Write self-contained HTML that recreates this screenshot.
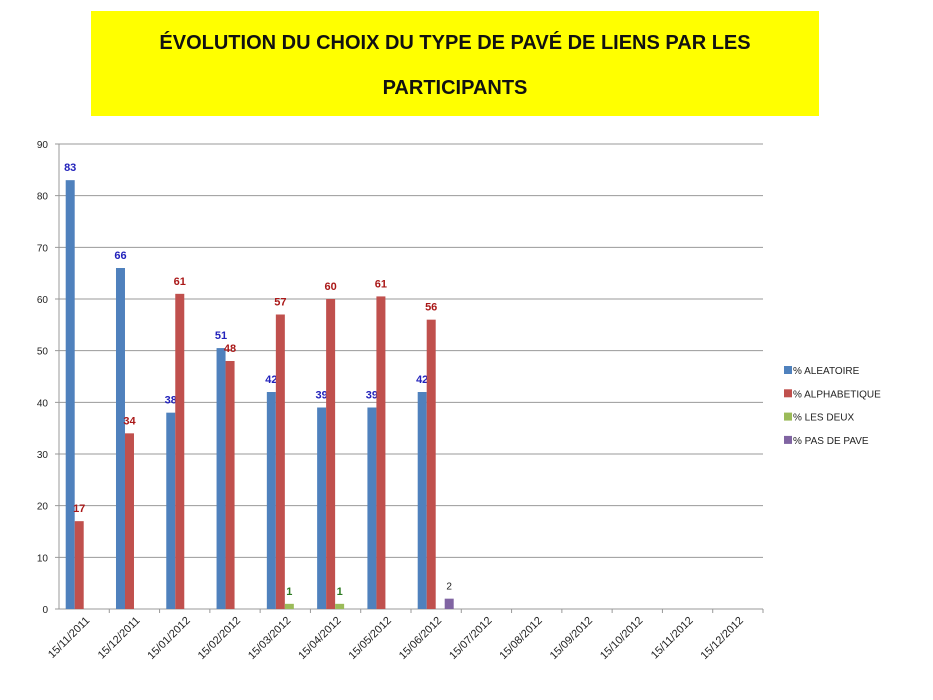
<!DOCTYPE html>
<html><head><meta charset="utf-8"><style>
body{margin:0;background:#fff;width:933px;height:700px;overflow:hidden;font-family:"Liberation Sans",sans-serif}
#title{position:absolute;left:91px;top:11px;width:728px;height:105px;background:#ffff00;text-align:center;font-weight:bold;font-size:20px;color:#111;line-height:45px;padding-top:10px;box-sizing:border-box}
svg{position:absolute;left:0;top:0}
</style></head><body>
<div id="title">ÉVOLUTION DU CHOIX DU TYPE DE PAVÉ DE LIENS PAR LES<br>PARTICIPANTS</div>
<svg id="c" width="933" height="700"></svg>
<script>
const categories=["15/11/2011","15/12/2011","15/01/2012","15/02/2012","15/03/2012","15/04/2012","15/05/2012","15/06/2012","15/07/2012","15/08/2012","15/09/2012","15/10/2012","15/11/2012","15/12/2012"];
const aleatoire=[83,66,38,50.5,42,39,39,42,null,null,null,null,null,null];
const alphabetique=[17,34,61,48,57,60,60.5,56,null,null,null,null,null,null];
const lesDeux=[null,null,null,null,1,1,null,null,null,null,null,null,null,null];
const pasDePave=[null,null,null,null,null,null,null,2,null,null,null,null,null,null];
const yTicks=[0,10,20,30,40,50,60,70,80,90];
const seriesNames=["% ALEATOIRE","% ALPHABETIQUE","%  LES DEUX","% PAS DE PAVE"];
const series=[aleatoire,alphabetique,lesDeux,pasDePave];
const colors=["#4f81bd","#c0504d","#9bbb59","#8064a2"];
const labelColors=["#2222bb","#aa1818","#2a7a20","#222"];
const x0=59,x1=763,yZero=609,yTop=144,yMax=90;
const svg=document.getElementById('c');const NS="http://www.w3.org/2000/svg";
const band=(x1-x0)/categories.length;
const y=v=>yZero-(v/yMax)*(yZero-yTop);
function el(t,a,p){const e=document.createElementNS(NS,t);for(const k in a)e.setAttribute(k,a[k]);(p||svg).appendChild(e);return e;}
yTicks.forEach(t=>{
const g=el('line',{x1:x0-4,x2:x1,y1:y(t),y2:y(t),stroke:t===0?'#999':'#999','stroke-width':1});


const tx=el('text',{x:x0-11,y:y(t)+4,'text-anchor':'end','font-size':10,fill:'#222'});tx.textContent=t;


});
el('line',{x1:x0,x2:x0,y1:yTop,y2:yZero,stroke:'#999'});
categories.forEach((c,i)=>{
const cx=x0+i*band;
el('line',{x1:cx+band,x2:cx+band,y1:yZero,y2:yZero+4,stroke:'#999'});
const tx=el('text',{x:0,y:0,'text-anchor':'end','font-size':11,fill:'#222',transform:`translate(${cx+band/2+6},${yZero+12}) rotate(-45)`});tx.textContent=c;


series.forEach((s,k)=>{
const v=s[i];if(v==null)return;
const bx=cx+6.7+k*9;
const r=el('rect',{x:bx,y:y(v),width:9,height:yZero-y(v),fill:colors[k]});


const l=el('text',{x:bx+4.5,y:y(v)-9,'text-anchor':'middle','font-size':k===3?10:11,'font-weight':k===3?'normal':'bold',fill:labelColors[k]});l.textContent=Math.round(v);


});
});
seriesNames.forEach((n,k)=>{
const yy=370+k*23.3;
const r=el('rect',{x:784,y:yy-4,width:8,height:8,fill:colors[k]});


const t=el('text',{x:793,y:yy+4,'font-size':10,fill:'#222'});t.textContent=n;


});
</script>
</body></html>
